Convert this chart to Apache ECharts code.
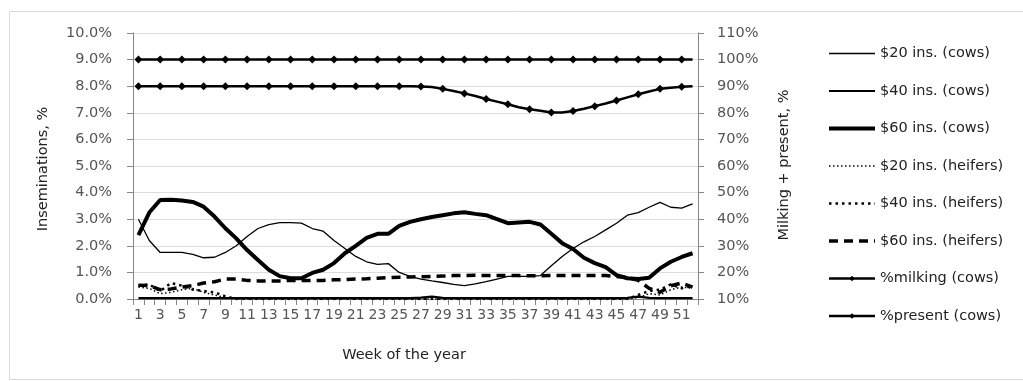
<!DOCTYPE html>
<html>
<head>
<meta charset="utf-8">
<script src="https://cdn.jsdelivr.net/npm/echarts@6/dist/echarts.min.js"></script>
<style>
html,body{margin:0;padding:0;background:#fff;}
#c{width:1023px;height:381px;}
</style>
</head>
<body>
<div id="c"></div>
<script>
var weeks = ['1','2','3','4','5','6','7','8','9','10','11','12','13','14','15','16','17','18','19','20','21','22','23','24','25','26','27','28','29','30','31','32','33','34','35','36','37','38','39','40','41','42','43','44','45','46','47','48','49','50','51','52'];

var ins20Cows = [3.0,2.2,1.75,1.75,1.75,1.68,1.55,1.57,1.75,2.0,2.35,2.65,2.8,2.87,2.87,2.85,2.65,2.55,2.2,1.9,1.6,1.4,1.3,1.33,1.0,0.85,0.75,0.68,0.62,0.55,0.5,0.57,0.65,0.75,0.85,0.85,0.85,0.88,1.25,1.6,1.9,2.15,2.35,2.6,2.85,3.15,3.25,3.45,3.63,3.45,3.42,3.58];
var ins40Cows = [0.03,0.03,0.03,0.03,0.03,0.03,0.03,0.03,0.03,0.03,0.03,0.03,0.03,0.03,0.03,0.03,0.03,0.03,0.03,0.03,0.03,0.03,0.03,0.03,0.03,0.03,0.05,0.09,0.04,0.03,0.03,0.03,0.03,0.03,0.03,0.03,0.03,0.03,0.03,0.03,0.03,0.03,0.03,0.03,0.03,0.04,0.09,0.04,0.03,0.03,0.03,0.03];
var ins60Cows = [2.4,3.25,3.72,3.73,3.7,3.65,3.47,3.1,2.66,2.28,1.84,1.47,1.1,0.86,0.78,0.78,0.98,1.1,1.35,1.72,2.0,2.3,2.45,2.45,2.75,2.9,3.0,3.08,3.15,3.22,3.26,3.2,3.15,3.0,2.85,2.88,2.9,2.8,2.45,2.1,1.88,1.55,1.35,1.2,0.9,0.78,0.75,0.8,1.15,1.4,1.58,1.72];
var ins20Heifers = [0.45,0.4,0.2,0.25,0.35,0.4,0.25,0.15,0.05,0,0,0,0,0,0,0,0,0,0,0,0,0,0,0,0,0,0,0,0,0,0,0,0,0,0,0,0,0,0,0,0,0,0,0,0,0,0.05,0.2,0.15,0.35,0.45,0.4];
var ins40Heifers = [0.5,0.55,0.3,0.6,0.5,0.35,0.3,0.25,0.1,0,0,0,0,0,0,0,0,0,0,0,0,0,0,0,0,0,0,0,0,0,0,0,0,0,0,0,0,0,0,0,0,0,0,0,0,0,0.15,0.3,0.35,0.55,0.4,0.5];
var ins60Heifers = [0.52,0.5,0.35,0.38,0.45,0.5,0.6,0.65,0.75,0.75,0.7,0.68,0.68,0.68,0.7,0.7,0.7,0.7,0.72,0.73,0.75,0.76,0.78,0.8,0.82,0.83,0.84,0.85,0.86,0.88,0.88,0.89,0.88,0.88,0.88,0.88,0.87,0.87,0.88,0.88,0.88,0.88,0.88,0.88,0.85,0.8,0.7,0.4,0.25,0.5,0.6,0.45];
var milking = [90,90,90,90,90,90,90,90,90,90,90,90,90,90,90,90,90,90,90,90,90,90,90,90,90,90,89.9,89.7,89.0,88.2,87.3,86.3,85.2,84.2,83.2,82.1,81.3,80.8,80.1,80.1,80.7,81.5,82.5,83.5,84.6,85.8,87.0,88.0,89.0,89.4,89.8,90.0];
var present = [100,100,100,100,100,100,100,100,100,100,100,100,100,100,100,100,100,100,100,100,100,100,100,100,100,100,100,100,100,100,100,100,100,100,100,100,100,100,100,100,100,100,100,100,100,100,100,100,100,100,100,100];

var seriesNames = ['$20 ins. (cows)','$40 ins. (cows)','$60 ins. (cows)','$20 ins. (heifers)','$40 ins. (heifers)','$60 ins. (heifers)','%milking (cows)','%present (cows)'];

var FONT = 'DejaVu Sans';
var chart = echarts.init(document.getElementById('c'), null, {renderer:'canvas'});

var styles = [
  {w: 1.3, t: 'solid'}, {w: 2.2, t: 'solid'}, {w: 4, t: 'solid'},
  {w: 1.5, t: [1.5, 2.5]}, {w: 2.5, t: [2.5, 4]}, {w: 3.5, t: [9, 6]},
  {w: 2.5, t: 'solid', sym: true}, {w: 2.5, t: 'solid', sym: true}
];
var seriesData = [ins20Cows, ins40Cows, ins60Cows, ins20Heifers, ins40Heifers, ins60Heifers, milking, present];

var series = seriesNames.map(function(name, i){
  var s = styles[i];
  return {
    name: name, type: 'line', data: seriesData[i], yAxisIndex: s.sym ? 1 : 0,
    symbol: s.sym ? 'diamond' : 'circle', symbolSize: s.sym ? 8 : 0, showSymbol: !!s.sym,
    lineStyle: {color: '#000', width: s.w, type: s.t},
    itemStyle: {color: s.sym ? '#000' : 'rgba(0,0,0,0)'},
    emphasis: {disabled: true}, animation: false, z: 3
  };
});
var legendData = seriesNames.map(function(name, i){
  return {name: name, lineStyle: {width: styles[i].w, type: styles[i].t, color: '#000'}};
});

chart.setOption({
  animation: false,
  backgroundColor: '#fff',
  grid: {left: 133, right: 325, top: 33, bottom: 82},
  legend: {
    orient: 'vertical', left: 822, top: 41,
    itemWidth: 46, itemHeight: 7, itemGap: 22.5,
    textStyle: {fontFamily: FONT, fontSize: 14.5, color: '#222'},
    data: legendData
  },
  xAxis: {
    type: 'category', data: weeks, boundaryGap: true,
    axisLine: {lineStyle: {color: '#868686'}},
    axisTick: {show: true, interval: 0, length: 6, lineStyle: {color: '#868686'}},
    axisLabel: {interval: 1, fontFamily: FONT, fontSize: 14, color: '#555', margin: 9}
  },
  yAxis: [
    {type: 'value', min: 0, max: 10, interval: 1,
     axisLine: {show: true, lineStyle: {color: '#868686'}},
     axisTick: {show: true, length: 6, lineStyle: {color: '#868686'}},
     splitLine: {show: true, lineStyle: {color: '#dcdcdc'}},
     axisLabel: {fontFamily: FONT, fontSize: 14.5, color: '#555', margin: 21,
       formatter: function(v){return v.toFixed(1) + '%';}}},
    {type: 'value', min: 10, max: 110, interval: 10, position: 'right',
     axisLine: {show: true, lineStyle: {color: '#868686'}},
     axisTick: {show: true, length: 6, lineStyle: {color: '#868686'}},
     splitLine: {show: false},
     axisLabel: {fontFamily: FONT, fontSize: 14.5, color: '#555', margin: 19,
       formatter: '{value}%'}}
  ],
  graphic: [
    {type: 'rect', shape: {x: 9.5, y: 11.5, width: 1030, height: 368}, style: {fill: 'none', stroke: '#d9d9d9', lineWidth: 1}, silent: true},
    {type: 'text', x: 43, y: 169, rotation: Math.PI/2, style: {text: 'Inseminations, %', align: 'center', verticalAlign: 'middle', font: '14.5px "DejaVu Sans"', fill: '#222'}},
    {type: 'text', x: 784, y: 165, rotation: Math.PI/2, style: {text: 'Milking + present, %', align: 'center', verticalAlign: 'middle', font: '14.5px "DejaVu Sans"', fill: '#222'}},
    {type: 'text', x: 404, y: 355, style: {text: 'Week of the year', align: 'center', verticalAlign: 'middle', font: '14.5px "DejaVu Sans"', fill: '#222'}}
  ],
  series: series
});
</script>
</body>
</html>
